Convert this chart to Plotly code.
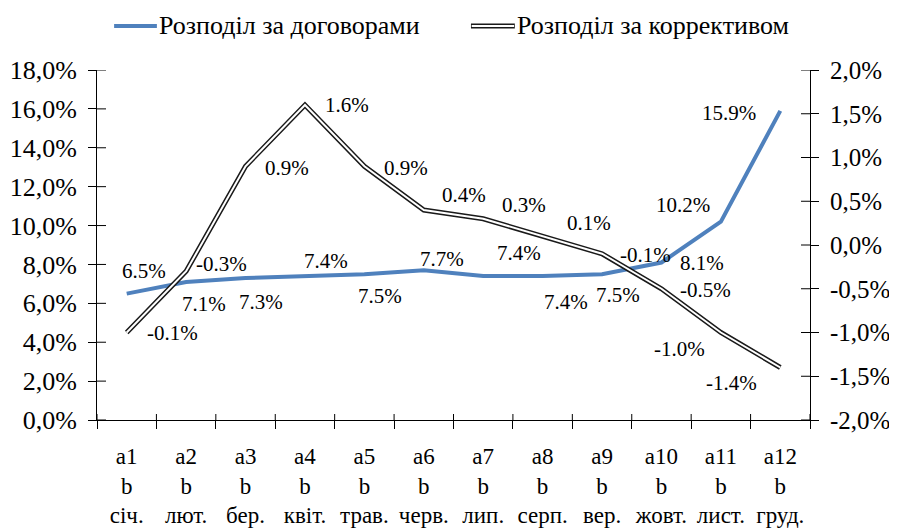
import plotly.graph_objects as go

# categories (three-line tick labels) and series
codes = ["a1", "a2", "a3", "a4", "a5", "a6", "a7", "a8", "a9", "a10", "a11", "a12"]
months = ["січ.", "лют.", "бер.", "квіт.", "трав.", "черв.", "лип.", "серп.", "вер.", "жовт.", "лист.", "груд."]
categories = [c + "<br>b<br>" + m for c, m in zip(codes, months)]

contracts = [6.5, 7.1, 7.3, 7.4, 7.5, 7.7, 7.4, 7.4, 7.5, 8.1, 10.2, 15.9]
contracts_labels = ["6.5%", "7.1%", "7.3%", "7.4%", "7.5%", "7.7%", "7.4%", "7.4%", "7.5%", "8.1%", "10.2%", "15.9%"]

corrective = [-1.0, -0.3, 0.9, 1.6, 0.9, 0.4, 0.3, 0.1, -0.1, -0.5, -1.0, -1.4]
corrective_labels = ["-0.1%", "-0.3%", "0.9%", "1.6%", "0.9%", "0.4%", "0.3%", "0.1%", "-0.1%", "-0.5%", "-1.0%", "-1.4%"]

left_ticks = [0, 2, 4, 6, 8, 10, 12, 14, 16, 18]
left_ticktext = ["0,0%", "2,0%", "4,0%", "6,0%", "8,0%", "10,0%", "12,0%", "14,0%", "16,0%", "18,0%"]
right_ticks = [-2.0, -1.5, -1.0, -0.5, 0.0, 0.5, 1.0, 1.5, 2.0]
right_ticktext = ["-2,0%", "-1,5%", "-1,0%", "-0,5%", "0,0%", "0,5%", "1,0%", "1,5%", "2,0%"]

series_names = ["Розподіл за договорами", "Розподіл за коррективом"]

BLUE = "#4F81BD"
FONT = "Liberation Serif, Times New Roman, DejaVu Serif, serif"

# label offsets in pixels (dx, dy) from each point, dy positive = up
blue_off = [(17, 23), (18, -22), (15, -24), (21, 15), (16, -22), (18, 11),
            (36, 23), (23, -26), (16, -21), (41, 0), (-38, 17), (-51, -2)]
black_off = [(46, 0), (35, 7), (41, -2), (42, 0), (42, -2), (40, 15),
             (41, 14), (46, 13), (43, -1), (44, -1), (-41, -16), (-49, -15)]

fig = go.Figure()

fig.add_trace(go.Scatter(x=categories, y=contracts, mode="lines",
                         line=dict(color=BLUE, width=4), name=series_names[0],
                         showlegend=False, yaxis="y"))
# double line: black outline with a white core
fig.add_trace(go.Scatter(x=categories, y=corrective, mode="lines",
                         line=dict(color="#1a1a1a", width=5), name=series_names[1],
                         showlegend=False, yaxis="y2"))
fig.add_trace(go.Scatter(x=categories, y=corrective, mode="lines",
                         line=dict(color="white", width=2), showlegend=False,
                         hoverinfo="skip", yaxis="y2"))

annotations = []
for cat, val, lab, (dx, dy) in zip(categories, contracts, contracts_labels, blue_off):
    annotations.append(dict(x=cat, y=val, xref="x", yref="y", text=lab, showarrow=False,
                            xshift=dx, yshift=dy, font=dict(family=FONT, size=21, color="black")))
for cat, val, lab, (dx, dy) in zip(categories, corrective, corrective_labels, black_off):
    annotations.append(dict(x=cat, y=val, xref="x", yref="y2", text=lab, showarrow=False,
                            xshift=dx, yshift=dy, font=dict(family=FONT, size=21, color="black")))

# hand-drawn legend at the top
shapes = [
    dict(type="line", xref="paper", yref="paper", x0=0.024, x1=0.084, y0=1.126, y1=1.126,
         line=dict(color=BLUE, width=4)),
    dict(type="line", xref="paper", yref="paper", x0=0.5245, x1=0.586, y0=1.126, y1=1.126,
         line=dict(color="#1a1a1a", width=5)),
    dict(type="line", xref="paper", yref="paper", x0=0.5255, x1=0.585, y0=1.126, y1=1.126,
         line=dict(color="white", width=2)),
]
annotations.append(dict(x=0.084, y=1.126, xref="paper", yref="paper", text=series_names[0],
                        xanchor="left", yanchor="middle", showarrow=False,
                        font=dict(family=FONT, size=26, color="black")))
annotations.append(dict(x=0.586, y=1.126, xref="paper", yref="paper", text=series_names[1],
                        xanchor="left", yanchor="middle", showarrow=False,
                        font=dict(family=FONT, size=26, color="black")))

# inner halves of the crossing tick marks
for v in left_ticks:
    shapes.append(dict(type="line", xref="paper", yref="y", x0=0, x1=9 / 713, y0=v, y1=v,
                       line=dict(color="black", width=1)))
for v in right_ticks:
    shapes.append(dict(type="line", xref="paper", yref="y2", x0=1 - 9 / 713, x1=1, y0=v, y1=v,
                       line=dict(color="black", width=1)))
for i in range(len(categories) + 1):
    shapes.append(dict(type="line", xref="x", yref="paper", x0=i - 0.5, x1=i - 0.5,
                       y0=0, y1=6 / 350, line=dict(color="black", width=1)))

fig.update_layout(
    width=889, height=521,
    margin=dict(l=89, r=87, t=62, b=109, autoexpand=False),
    plot_bgcolor="white", paper_bgcolor="white",
    font=dict(family=FONT, size=22, color="black"),
    showlegend=False,
    xaxis=dict(type="category", categoryorder="array", categoryarray=categories,
               tickson="boundaries", ticks="outside", ticklen=8, tickcolor="black",
               showline=True, linecolor="black", linewidth=1, showgrid=False,
               tickfont=dict(size=23), tickangle=0, ticklabelstandoff=15, range=[-0.5, 11.5]),
    yaxis=dict(range=[0, 18], tickmode="array", tickvals=left_ticks, ticktext=left_ticktext,
               ticks="outside", ticklen=8, tickcolor="black", tickfont=dict(size=26),
               ticklabelstandoff=6,
               showline=True, linecolor="black", linewidth=1, showgrid=False, zeroline=False),
    yaxis2=dict(range=[-2, 2], overlaying="y", side="right", tickmode="array",
                tickvals=right_ticks, ticktext=right_ticktext, tickfont=dict(size=25),
                ticks="outside", ticklen=8, tickcolor="black", ticklabelstandoff=6,
                showline=True, linecolor="black", linewidth=1, showgrid=False, zeroline=False),
    annotations=annotations,
    shapes=shapes,
)

fig.write_html("out.html")
